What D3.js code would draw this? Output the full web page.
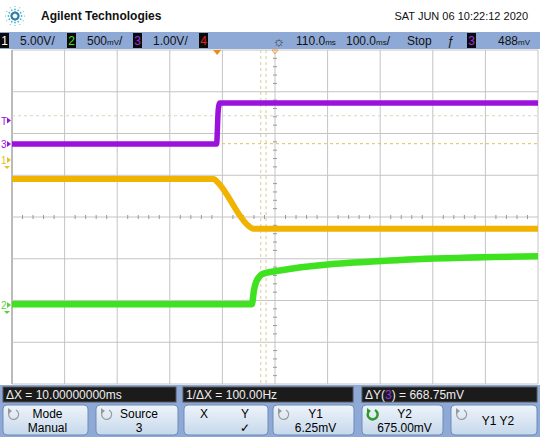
<!DOCTYPE html>
<html>
<head>
<meta charset="utf-8">
<script src="https://cdn.jsdelivr.net/npm/d3@7"></script>
<style>
body { margin: 0; background: #fff; }
svg { display: block; font-family: "Liberation Sans", Arial, sans-serif; }
</style>
</head>
<body>
<svg id="scope" width="540" height="437"></svg>
<script>
// time axis: 100ms/div, 10 divisions, delay 110ms
var timeDiv = 100;
var timeDelay = 110;

// ch1 (yellow) 5V/div
var ch1Time = [-390, -6, 0, 60, 68, 610];
var ch1Volt = [-2.28, -2.28, -2.6, -7.9, -8.22, -8.22];
// ch2 (green) 500mV/div
var ch2Time = [-390, 66, 70, 74, 79.6, 85, 110, 348, 610];
var ch2Volt = [0.01, 0.01, 0.18, 0.275, 0.335, 0.37, 0.405, 0.54, 0.585];
// ch3 (purple) 1V/div
var ch3Time = [-390, -1, 2, 5, 610];
var ch3Volt = [0.0, 0.0, 0.8, 0.98, 0.98];

var chVdiv = [5, 0.5, 1];
var chGroundDiv = [1.365, -2.11, 1.75];   // ground marker, divisions above center
var chColor = ["#f0b400", "#3ee21e", "#9a12dc"];

var statusLeft = [["1", "5.00", "V", "/"], ["2", "500", "mV", "/"], ["3", "1.00", "V", "/"], ["4", "", "", ""]];
var measLabels = ["ΔX = 10.00000000ms", "1/ΔX = 100.00Hz", "ΔY(3) = 668.75mV"];
var keyTop = ["Mode", "Source", "X", "Y1", "Y2", "Y1 Y2"];
var keyBottom = ["Manual", "3", "", "6.25mV", "675.00mV", ""];

var svg = d3.select("#scope");
var pLeft = 12, pRight = 538, pTop = 50, pBottom = 384;

var x = d3.scaleLinear()
    .domain([timeDelay - 5 * timeDiv, timeDelay + 5 * timeDiv])
    .range([pLeft, pRight]);

var yScales = chVdiv.map(function(v, i){
    return d3.scaleLinear()
	.domain([(-4 - chGroundDiv[i]) * v, (4 - chGroundDiv[i]) * v])
	.range([pBottom, pTop]);
});
var yDiv = d3.scaleLinear().domain([-4, 4]).range([pBottom, pTop]);

// header
var logo = svg.append("g").attr("transform", "translate(15,16)");
for (var a = 0; a < 12; a++){
    var ang = a * Math.PI / 6;
    [3.5, 6.5, 9.5].forEach(function(r, k){
	logo.append("circle")
	    .attr("cx", r * Math.cos(ang)).attr("cy", r * Math.sin(ang))
	    .attr("r", k == 0 ? 1.2 : (k == 1 ? 0.9 : 0.6))
	    .attr("fill", k == 0 ? "#2a7fa8" : "#4fb3c8");
    });
}
svg.append("text").attr("x", 41).attr("y", 20).attr("font-size", 12)
    .attr("font-weight", "bold").attr("fill", "#111").text("Agilent Technologies");
svg.append("text").attr("x", 528).attr("y", 20).attr("font-size", 11)
    .attr("text-anchor", "end").attr("fill", "#111").text("SAT JUN 06 10:22:12 2020");

// status bar
svg.append("rect").attr("x", 0).attr("y", 32).attr("width", 540).attr("height", 17).attr("fill", "#8fa9d6");

var unitText = function(g, xx, yy, num, unit, suffix){
    var t = g.append("text").attr("x", xx).attr("y", yy).attr("font-size", 12).attr("fill", "#111").text(num);
    if (unit.length == 2) t.append("tspan").attr("font-size", 8).text(unit);
    else t.append("tspan").text(unit);
    if (suffix) t.append("tspan").text(suffix);
};

var bar = svg.append("g");
var boxColors = ["#ffffff", "#3ee21e", "#a030e0", "#e02020"];
var boxX = [0, 67, 133, 199];
statusLeft.forEach(function(s, i){
    bar.append("rect").attr("x", boxX[i]).attr("y", 33).attr("width", 9).attr("height", 15).attr("fill", "#0a0a0a");
    bar.append("text").attr("x", boxX[i] + 4.5).attr("y", 45).attr("font-size", 12)
	.attr("text-anchor", "middle").attr("fill", boxColors[i]).text(s[0]);
    if (s[1]) unitText(bar, boxX[i] + 20, 45, s[1], s[2], s[3]);
});
bar.append("text").attr("x", 279).attr("y", 46).attr("font-size", 14).attr("text-anchor", "middle").attr("fill", "#333").text("☼");
unitText(bar, 296, 45, "110.0", "ms", "");
unitText(bar, 346, 45, "100.0", "ms", "/");
bar.append("text").attr("x", 407).attr("y", 45).attr("font-size", 12).attr("fill", "#111").text("Stop");
bar.append("text").attr("x", 447).attr("y", 45).attr("font-size", 12).attr("font-style", "italic").attr("fill", "#111").text("ƒ");
bar.append("rect").attr("x", 467).attr("y", 33).attr("width", 9).attr("height", 15).attr("fill", "#0a0a0a");
bar.append("text").attr("x", 471.5).attr("y", 45).attr("font-size", 12).attr("text-anchor", "middle").attr("fill", "#a030e0").text("3");
unitText(bar, 498, 45, "488", "mV", "");

// grid
var grid = svg.append("g");
d3.range(0, 11).forEach(function(i){
    var t = timeDelay - 5 * timeDiv + i * timeDiv;
    grid.append("line").attr("x1", x(t)).attr("x2", x(t)).attr("y1", pTop).attr("y2", pBottom)
	.attr("stroke", i == 0 ? "#777" : "#c4c4c4").attr("stroke-width", 1);
});
d3.range(-4, 5).forEach(function(d){
    grid.append("line").attr("x1", pLeft).attr("x2", pRight).attr("y1", yDiv(d)).attr("y2", yDiv(d))
	.attr("stroke", "#c4c4c4").attr("stroke-width", 1);
});
// minor ticks on center cross
d3.range(-25, 26).forEach(function(k){
    if (k % 5 == 0) return;
    var t = timeDelay + k * timeDiv / 5;
    grid.append("line").attr("x1", x(t)).attr("x2", x(t)).attr("y1", yDiv(0) - 2).attr("y2", yDiv(0) + 2)
	.attr("stroke", "#999");
});
d3.range(-20, 21).forEach(function(k){
    if (k % 5 == 0) return;
    grid.append("line").attr("x1", x(timeDelay) - 2).attr("x2", x(timeDelay) + 2)
	.attr("y1", yDiv(k / 5)).attr("y2", yDiv(k / 5)).attr("stroke", "#999");
});

// cursors
var curs = svg.append("g").attr("fill", "none").attr("stroke-dasharray", "3,3");
[0, 10].forEach(function(t, i){
    curs.append("line").attr("x1", x(83 + t)).attr("x2", x(83 + t)).attr("y1", pTop).attr("y2", pBottom)
	.attr("stroke", i == 0 ? "#d6cf9a" : "#d9c98a");
});
curs.append("line").attr("x1", pLeft).attr("x2", pRight).attr("y1", yScales[2](0.675)).attr("y2", yScales[2](0.675)).attr("stroke", "#d8d4c0");
curs.append("line").attr("x1", pLeft).attr("x2", pRight).attr("y1", yScales[2](0.00625)).attr("y2", yScales[2](0.00625)).attr("stroke", "#e3c25a");

// traces
var traces = [[ch1Time, ch1Volt], [ch2Time, ch2Volt], [ch3Time, ch3Volt]];
var widths = [6, 6.5, 5.5];
traces.forEach(function(tr, i){
    var pts = tr[0].map(function(t, k){ return [t, tr[1][k]]; });
    var line = d3.line().x(function(d){ return x(d[0]); }).y(function(d){ return yScales[i](d[1]); })
	.curve(d3.curveMonotoneX);
    svg.append("path").datum(pts).attr("d", line).attr("fill", "none")
	.attr("stroke", chColor[i]).attr("stroke-width", widths[i]).attr("stroke-linejoin", "round");
});

// trigger position marker and time reference
svg.append("path").attr("d", "M" + (x(0) - 4) + ",50 L" + (x(0) + 4) + ",50 L" + x(0) + ",55 Z").attr("fill", "#f08a10");
svg.append("path").attr("d", "M" + (x(timeDelay) - 3) + ",50 L" + (x(timeDelay) + 3) + ",50 L" + x(timeDelay) + ",54 Z")
    .attr("fill", "none").attr("stroke", "#f0a040");

// left markers
var mark = function(label, yy, col, down){
    svg.append("text").attr("x", 1).attr("y", yy + 4).attr("font-size", 10).attr("fill", col).text(label);
    svg.append("path").attr("d", "M7," + (yy - 3) + " L11," + yy + " L7," + (yy + 3) + " Z").attr("fill", col);
    if (down) svg.append("path").attr("d", "M4," + (yy + 6) + " L10," + (yy + 6) + " L7," + (yy + 9) + " Z").attr("fill", col);
};
mark("T", yScales[2](0.488) - 3, "#9a12dc", false);
mark("3", yScales[2](0), "#9a12dc", false);
mark("1", yScales[0](0), "#e8c020", true);
mark("2", yScales[1](0), "#5ed040", true);

// measurement bar + softkeys
svg.append("rect").attr("x", 0).attr("y", 385).attr("width", 540).attr("height", 52).attr("fill", "#8fa9d6");
var measX = [3, 183, 362], measW = [173, 170, 175];
measLabels.forEach(function(m, i){
    svg.append("rect").attr("x", measX[i]).attr("y", 387).attr("width", measW[i]).attr("height", 15)
	.attr("fill", "#1b1b1b").attr("stroke", "#555");
    var t = svg.append("text").attr("x", measX[i] + 3).attr("y", 399).attr("font-size", 12).attr("fill", "#eee");
    if (i == 2){
	t.append("tspan").text("ΔY(");
	t.append("tspan").attr("fill", "#a030e0").text("3");
	t.append("tspan").text(") = 668.75mV");
    } else t.text(m);
});

var defs = svg.append("defs");
var grad = defs.append("linearGradient").attr("id", "key").attr("x1", 0).attr("y1", 0).attr("x2", 0).attr("y2", 1);
grad.append("stop").attr("offset", "0%").attr("stop-color", "#eef4fa");
grad.append("stop").attr("offset", "100%").attr("stop-color", "#c6d8ec");

var keyX = [3, 96, 184, 273, 362, 451], keyW = [85, 82, 84, 81, 81, 86];
var keyIcon = [true, true, false, true, true, true];
keyTop.forEach(function(k, i){
    var g = svg.append("g").attr("transform", "translate(" + keyX[i] + ",405)");
    g.append("rect").attr("width", keyW[i]).attr("height", 30).attr("rx", 4).attr("fill", "url(#key)").attr("stroke", "#6d8cb8");
    if (keyIcon[i]){
	var col = i == 4 ? "#2e9a2e" : "#999";
	g.append("path").attr("d", "M7,6 A5,5 0 1 0 13,5").attr("fill", "none").attr("stroke", col).attr("stroke-width", i == 4 ? 2.5 : 1.2);
	g.append("path").attr("d", "M5,3 L9,6 L5,9 Z").attr("fill", col);
    }
    if (i == 2){
	g.append("text").attr("x", 20).attr("y", 13).attr("font-size", 12).attr("text-anchor", "middle").text("X");
	g.append("text").attr("x", 61).attr("y", 13).attr("font-size", 12).attr("text-anchor", "middle").text("Y");
	g.append("text").attr("x", 61).attr("y", 27).attr("font-size", 12).attr("text-anchor", "middle").text("✓");
    } else if (keyBottom[i] == ""){
	g.append("text").attr("x", keyW[i] / 2 + 4).attr("y", 20).attr("font-size", 12).attr("text-anchor", "middle").text(k);
    } else {
	g.append("text").attr("x", keyW[i] / 2 + 2).attr("y", 13).attr("font-size", 12).attr("text-anchor", "middle").text(k);
	g.append("text").attr("x", keyW[i] / 2 + 2).attr("y", 27).attr("font-size", 12).attr("text-anchor", "middle").text(keyBottom[i]);
    }
});
</script>
</body>
</html>
